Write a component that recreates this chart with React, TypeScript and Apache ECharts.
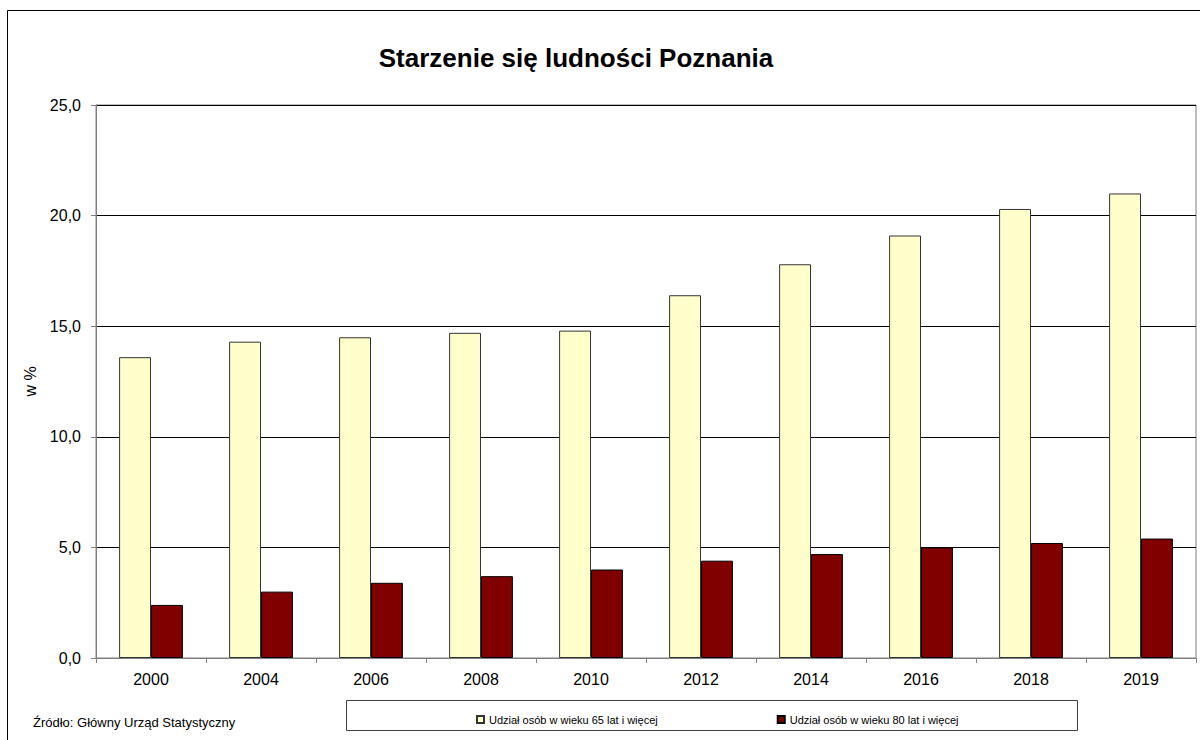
import React, { useEffect, useRef } from "react";
import * as echarts from "echarts";

const categories = ["2000", "2004", "2006", "2008", "2010", "2012", "2014", "2016", "2018", "2019"];
const share65 = [13.6, 14.3, 14.5, 14.7, 14.8, 16.4, 17.8, 19.1, 20.3, 21.0];
const share80 = [2.4, 3.0, 3.4, 3.7, 4.0, 4.4, 4.7, 5.0, 5.2, 5.4];
const seriesNames = ["Udział osób w wieku 65 lat i więcej", "Udział osób w wieku 80 lat i więcej"];
const titleText = "Starzenie się ludności Poznania";
const sourceText = "Źródło: Główny Urząd Statystyczny";
const yAxisName = "w %";

const FONT = "'Liberation Sans', Arial, sans-serif";

export default function App() {
  const ref = useRef<HTMLDivElement>(null);
  useEffect(() => {
    if (!ref.current) return;
    const chart = echarts.init(ref.current, null, { renderer: "svg" });
    chart.setOption({
      animation: false,
      backgroundColor: "#fff",
      textStyle: { fontFamily: FONT },
      grid: {
        left: 96,
        right: 4,
        top: 105,
        bottom: 82,
        show: true,
        borderColor: "#808080",
        borderWidth: 1,
      },
      legend: {
        left: 471,
        top: 709,
        icon: "rect",
        itemWidth: 7,
        itemHeight: 7,
        itemGap: 119,
        textStyle: { fontSize: 11, color: "#000", fontFamily: FONT },
        data: seriesNames,
      },
      xAxis: {
        type: "category",
        data: categories,
        axisLine: { lineStyle: { color: "#808080", width: 1 } },
        axisTick: { show: true, length: 5, lineStyle: { color: "#808080" } },
        axisLabel: { fontSize: 16, color: "#000", margin: 13, fontFamily: FONT },
      },
      yAxis: {
        type: "value",
        min: 0,
        max: 25,
        interval: 5,
        name: yAxisName,
        nameLocation: "middle",
        nameGap: 56,
        nameRotate: 90,
        nameTextStyle: { fontSize: 16, color: "#000", fontFamily: FONT },
        axisLine: { show: true, lineStyle: { color: "#808080", width: 1 } },
        axisTick: { show: true, length: 5, lineStyle: { color: "#808080" } },
        axisLabel: {
          fontSize: 16,
          color: "#000",
          margin: 15,
          fontFamily: FONT,
          formatter: (v: number) => v.toFixed(1).replace(".", ","),
        },
        splitLine: { show: true, lineStyle: { color: "#000", width: 1 } },
      },
      series: [
        {
          name: seriesNames[0],
          type: "bar",
          data: share65,
          barGap: "0%",
          barCategoryGap: "42%",
          itemStyle: { color: "#FFFFCC", borderColor: "#333", borderWidth: 1 },
        },
        {
          name: seriesNames[1],
          type: "bar",
          data: share80,
          itemStyle: { color: "#800000", borderColor: "#000", borderWidth: 1 },
        },
      ],
      graphic: [
        {
          type: "rect",
          shape: { x: 7.5, y: 10.5, width: 1200, height: 740 },
          style: { fill: "none", stroke: "#000", lineWidth: 1 },
          silent: true,
        },
        {
          type: "rect",
          shape: { x: 346.5, y: 700.5, width: 731, height: 30 },
          style: { fill: "none", stroke: "#404040", lineWidth: 1 },
          silent: true,
        },
        {
          type: "text",
          x: 576,
          y: 58,
          style: {
            text: titleText,
            font: `bold 26px ${FONT}`,
            fill: "#000",
            textAlign: "center",
            textVerticalAlign: "middle",
          },
        },
        {
          type: "text",
          x: 33,
          y: 722,
          style: {
            text: sourceText,
            font: `13px ${FONT}`,
            fill: "#000",
            textAlign: "left",
            textVerticalAlign: "middle",
          },
        },
      ],
    });
    return () => chart.dispose();
  }, []);
  return (
    <div
      ref={ref}
      style={{ position: "fixed", left: 0, top: 0, width: 1200, height: 740 }}
    />
  );
}
